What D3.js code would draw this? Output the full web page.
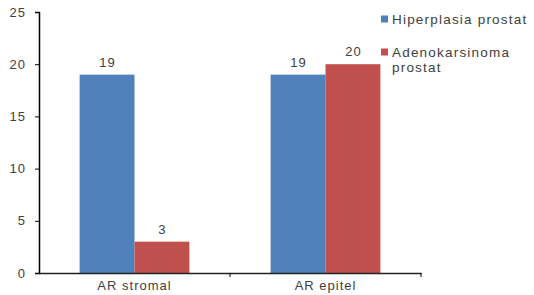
<!DOCTYPE html>
<html>
<head>
<meta charset="utf-8">
<script src="https://cdn.jsdelivr.net/npm/d3@7"></script>
<style>
  body { margin: 0; background: #fff; }
  svg text { font-family: "Liberation Sans", Arial, sans-serif; fill: #404040; letter-spacing: 1px; }
</style>
</head>
<body>
<div id="chart"></div>
<script>
const categories = ['AR stromal', 'AR epitel'];
const seriesNames = ['Hiperplasia prostat', 'Adenokarsinoma prostat'];
const hiperplasia = [19, 19];
const adenokarsinoma = [3, 20];
const yTicks = [0, 5, 10, 15, 20, 25];
const colors = ['#4F81BD', '#C0504D'];

const W = 534, H = 295;
const margin = { left: 39, top: 12, right: 113, bottom: 22 };
const width = W - margin.left - margin.right;
const height = H - margin.top - margin.bottom;

const svg = d3.select('#chart').append('svg')
  .attr('width', W)
  .attr('height', H);

const g = svg.append('g')
  .attr('transform', 'translate(' + margin.left + ',' + margin.top + ')');

const x = d3.scaleBand()
  .domain(categories)
  .range([0, width]);

const x1 = d3.scaleBand()
  .domain(seriesNames)
  .range([0, x.bandwidth()])
  .paddingOuter(0.74);

const y = d3.scaleLinear()
  .domain([0, 25])
  .range([height, 0]);

const series = [hiperplasia, adenokarsinoma];

series.forEach((vals, si) => {
  const rows = categories.map((c, i) => ({ cat: c, v: vals[i] }));
  g.selectAll('rect.s' + si).data(rows).enter()
    .append('rect')
    .attr('class', 's' + si)
    .attr('x', d => x(d.cat) + x1(seriesNames[si]))
    .attr('y', d => y(d.v))
    .attr('width', x1.bandwidth())
    .attr('height', d => height - y(d.v))
    .attr('fill', colors[si]);

  g.selectAll('text.l' + si).data(rows).enter()
    .append('text')
    .attr('class', 'l' + si)
    .attr('x', d => x(d.cat) + x1(seriesNames[si]) + x1.bandwidth() / 2 + 0.5)
    .attr('y', d => y(d.v) - 8)
    .attr('text-anchor', 'middle')
    .style('font-size', '13px')
    .text(d => d.v);
});

// y axis
const yAxis = g.append('g')
  .call(d3.axisLeft(y).tickValues(yTicks).tickSize(4).tickPadding(9));
yAxis.select('.domain').attr('stroke', '#000').attr('stroke-width', 1.5);
yAxis.selectAll('.tick line').attr('stroke', '#000');
yAxis.selectAll('.tick text').style('font-size', '13px').attr('fill', '#404040');

// x axis
const xAxis = g.append('g')
  .attr('transform', 'translate(0,' + height + ')')
  .call(d3.axisBottom(x).tickSize(0).tickPadding(8));
xAxis.select('.domain').attr('stroke', '#222').attr('stroke-width', 1.5);
xAxis.selectAll('.tick text').style('font-size', '13px').attr('fill', '#404040');
g.append('g')
  .attr('transform', 'translate(0,' + height + ')')
  .selectAll('line').data(categories).enter()
  .append('line')
  .attr('x1', d => x(d) + x.bandwidth())
  .attr('x2', d => x(d) + x.bandwidth())
  .attr('y1', 0).attr('y2', 4)
  .attr('stroke', '#000');

// legend
const legend = svg.append('g').attr('transform', 'translate(381,0)');
const legendRows = [
  { lines: ['Hiperplasia prostat'], y: 19 },
  { lines: ['Adenokarsinoma', 'prostat'], y: 52 }
];
legendRows.forEach((r, i) => {
  legend.append('rect')
    .attr('x', 0).attr('y', r.y - 3.5)
    .attr('width', 7).attr('height', 7)
    .attr('fill', colors[i]);
  const t = legend.append('text')
    .attr('x', 11).attr('y', r.y + 5)
    .style('font-size', '13.5px')
    .style('letter-spacing', '1.2px');
  r.lines.forEach((l, j) => {
    t.append('tspan').attr('x', 11).attr('dy', j === 0 ? 0 : 15).text(l);
  });
});
</script>
</body>
</html>
